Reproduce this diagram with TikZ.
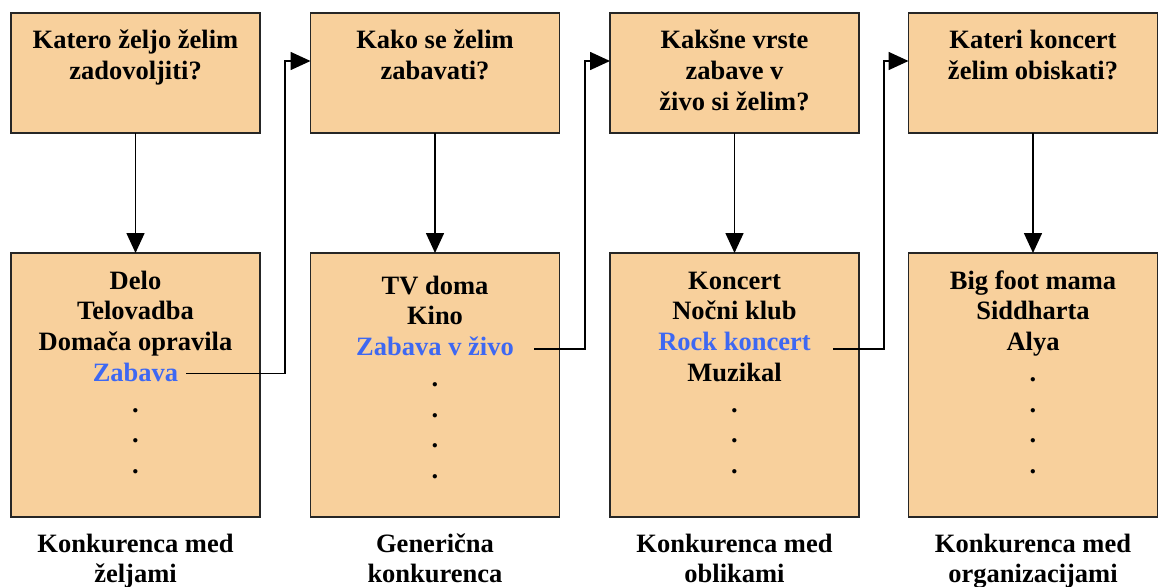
\documentclass[tikz,border=0pt]{standalone}
\usepackage{fontspec}
\setmainfont{Liberation Serif}
\usetikzlibrary{arrows.meta}
\definecolor{boxfill}{RGB}{248,208,156}
\definecolor{chosen}{RGB}{62,104,242}
% fixed-height strut so every text block starts at the same baseline
\newcommand{\lnstrut}{\rule{0pt}{24pt}}
\begin{document}
\begin{tikzpicture}[x=1pt,y=-1pt,
  box/.style={draw=black!85, line width=1.5pt, fill=boxfill, minimum width=249pt,
              anchor=north west, inner sep=0pt, outer sep=0pt},
  qbox/.style={box, minimum height=120pt},
  abox/.style={box, minimum height=264pt},
  txt/.style={font=\fontsize{26.5}{30.7}\selectfont\bfseries, align=center,
              anchor=north, inner sep=0pt},
  link/.style={line width=1.6pt, -{Triangle[length=20pt,width=18pt]}},
]
\useasboundingbox (0,0) rectangle (1158,586);

% question boxes (top row)
\node[qbox] (q1) at (11,13) {};
\node[qbox] (q2) at (310.5,13) {};
\node[qbox] (q3) at (610,13) {};
\node[qbox] (q4) at (908.5,13) {};

% answer boxes (bottom row)
\node[abox] (a1) at (11,253) {};
\node[abox] (a2) at (310.5,253) {};
\node[abox] (a3) at (610,253) {};
\node[abox] (a4) at (908.5,253) {};

% question texts
\node[txt, yshift=-11.5pt] (tq1) at (q1.north) {\lnstrut Katero željo želim\\zadovoljiti?};
\node[txt, yshift=-11.5pt] (tq2) at (q2.north) {\lnstrut Kako se želim\\zabavati?};
\node[txt, yshift=-11.5pt] (tq3) at (q3.north) {\lnstrut Kakšne vrste\\zabave v\\živo si želim?};
\node[txt, yshift=-11.5pt] (tq4) at (q4.north) {\lnstrut Kateri koncert\\želim obiskati?};

% answer texts
\node[txt, yshift=-12pt] (ta1) at (a1.north)
  {\lnstrut Delo\\Telovadba\\Domača opravila\\\textcolor{chosen}{Zabava}\\.\\.\\.};
\node[txt, yshift=-17pt] (ta2) at (a2.north)
  {\lnstrut TV doma\\Kino\\\textcolor{chosen}{Zabava v živo}\\.\\.\\.\\.};
\node[txt, yshift=-12pt] (ta3) at (a3.north)
  {\lnstrut Koncert\\Nočni klub\\\textcolor{chosen}{Rock koncert}\\Muzikal\\.\\.\\.};
\node[txt, yshift=-12pt] (ta4) at (a4.north)
  {\lnstrut Big foot mama\\Siddharta\\Alya\\.\\.\\.\\.};

% captions under the columns
\node[txt, yshift=-11pt] (c1) at (a1.south) {\lnstrut Konkurenca med\\željami};
\node[txt, yshift=-11pt] (c2) at (a2.south) {\lnstrut Generična\\konkurenca};
\node[txt, yshift=-11pt] (c3) at (a3.south) {\lnstrut Konkurenca med\\oblikami};
\node[txt, yshift=-11pt] (c4) at (a4.south) {\lnstrut Konkurenca med\\organizacijami};

% question -> answer
\draw[link] (q1.south) -- (a1.north);
\draw[link] (q2.south) -- (a2.north);
\draw[link] (q3.south) -- (a3.north);
\draw[link] (q4.south) -- (a4.north);

% chosen answer -> next question
\coordinate (s1) at (186,373.3);
\coordinate (j1) at (285,61);
\coordinate (s2) at (534,349);
\coordinate (j2) at (585,61);
\coordinate (s3) at (833,349);
\coordinate (j3) at (884,61);
\draw[link] (s1) -| (j1) -- ([yshift=12pt]q2.west);
\draw[link] (s2) -| (j2) -- ([yshift=12pt]q3.west);
\draw[link] (s3) -| (j3) -- ([yshift=12pt]q4.west);
\end{tikzpicture}
\end{document}
